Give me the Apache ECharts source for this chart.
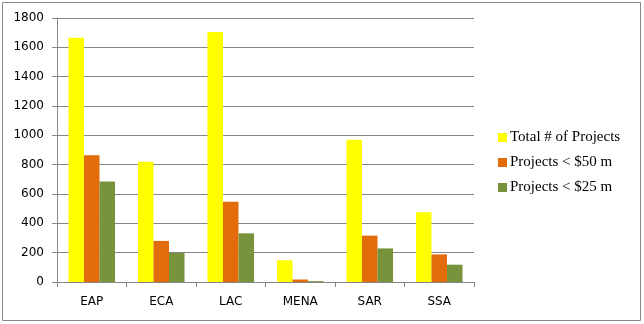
<!DOCTYPE html>
<html>
<head>
<meta charset="utf-8">
<script src="https://cdn.jsdelivr.net/npm/echarts@6/dist/echarts.min.js"></script>
<style>
  html, body { margin: 0; padding: 0; background: #fff; }
  #chart { width: 644px; height: 324px; }
</style>
</head>
<body>
<div id="chart"></div>
<script>
// Regions and project counts
const regions = ['EAP', 'ECA', 'LAC', 'MENA', 'SAR', 'SSA'];
const totalProjects = [1665, 820, 1705, 148, 970, 475];
const under50m = [864, 280, 548, 17, 316, 188];
const under25m = [686, 198, 332, 6, 229, 118];
const seriesNames = ['Total # of Projects', 'Projects < $50 m', 'Projects < $25 m'];
const seriesColors = ['#FFFF00', '#E36C0A', '#77933C'];

const chart = echarts.init(document.getElementById('chart'), null, { renderer: 'canvas' });

const makeSeries = (name, data, color) => ({
  name: name,
  type: 'bar',
  data: data,
  barGap: '0%',
  barCategoryGap: '33%',
  itemStyle: { color: color },
  emphasis: { disabled: true }
});

chart.setOption({
  animation: false,
  backgroundColor: '#ffffff',
  graphic: [{
    type: 'rect',
    shape: { x: 2.5, y: 2.5, width: 638, height: 318 },
    style: { fill: 'none', stroke: '#868686', lineWidth: 1 },
    silent: true
  }],
  grid: { left: 57, top: 18, right: 170, bottom: 42, containLabel: false },
  legend: {
    orient: 'vertical',
    left: 493,
    top: 125,
    itemWidth: 9,
    itemHeight: 9,
    itemGap: 10,
    icon: 'rect',
    data: seriesNames,
    textStyle: { fontFamily: 'Liberation Serif', fontSize: 15, color: '#000', padding: [0, 0, 0, -2] }
  },
  xAxis: {
    type: 'category',
    data: regions,
    axisLine: { lineStyle: { color: '#868686', width: 1 } },
    axisTick: { show: true, length: 5, alignWithLabel: false, lineStyle: { color: '#868686' } },
    axisLabel: { fontFamily: 'DejaVu Sans', fontSize: 12, color: '#000', margin: 14 }
  },
  yAxis: {
    type: 'value',
    min: 0,
    max: 1800,
    interval: 200,
    axisLine: { show: true, lineStyle: { color: '#868686', width: 1 } },
    axisTick: { show: true, length: 5, lineStyle: { color: '#868686' } },
    splitLine: { lineStyle: { color: '#868686', width: 1 } },
    axisLabel: { fontFamily: 'DejaVu Sans', fontSize: 12, color: '#000', margin: 13, formatter: (v) => String(v) }
  },
  series: [
    makeSeries(seriesNames[0], totalProjects, seriesColors[0]),
    makeSeries(seriesNames[1], under50m, seriesColors[1]),
    makeSeries(seriesNames[2], under25m, seriesColors[2])
  ]
});
</script>
</body>
</html>
